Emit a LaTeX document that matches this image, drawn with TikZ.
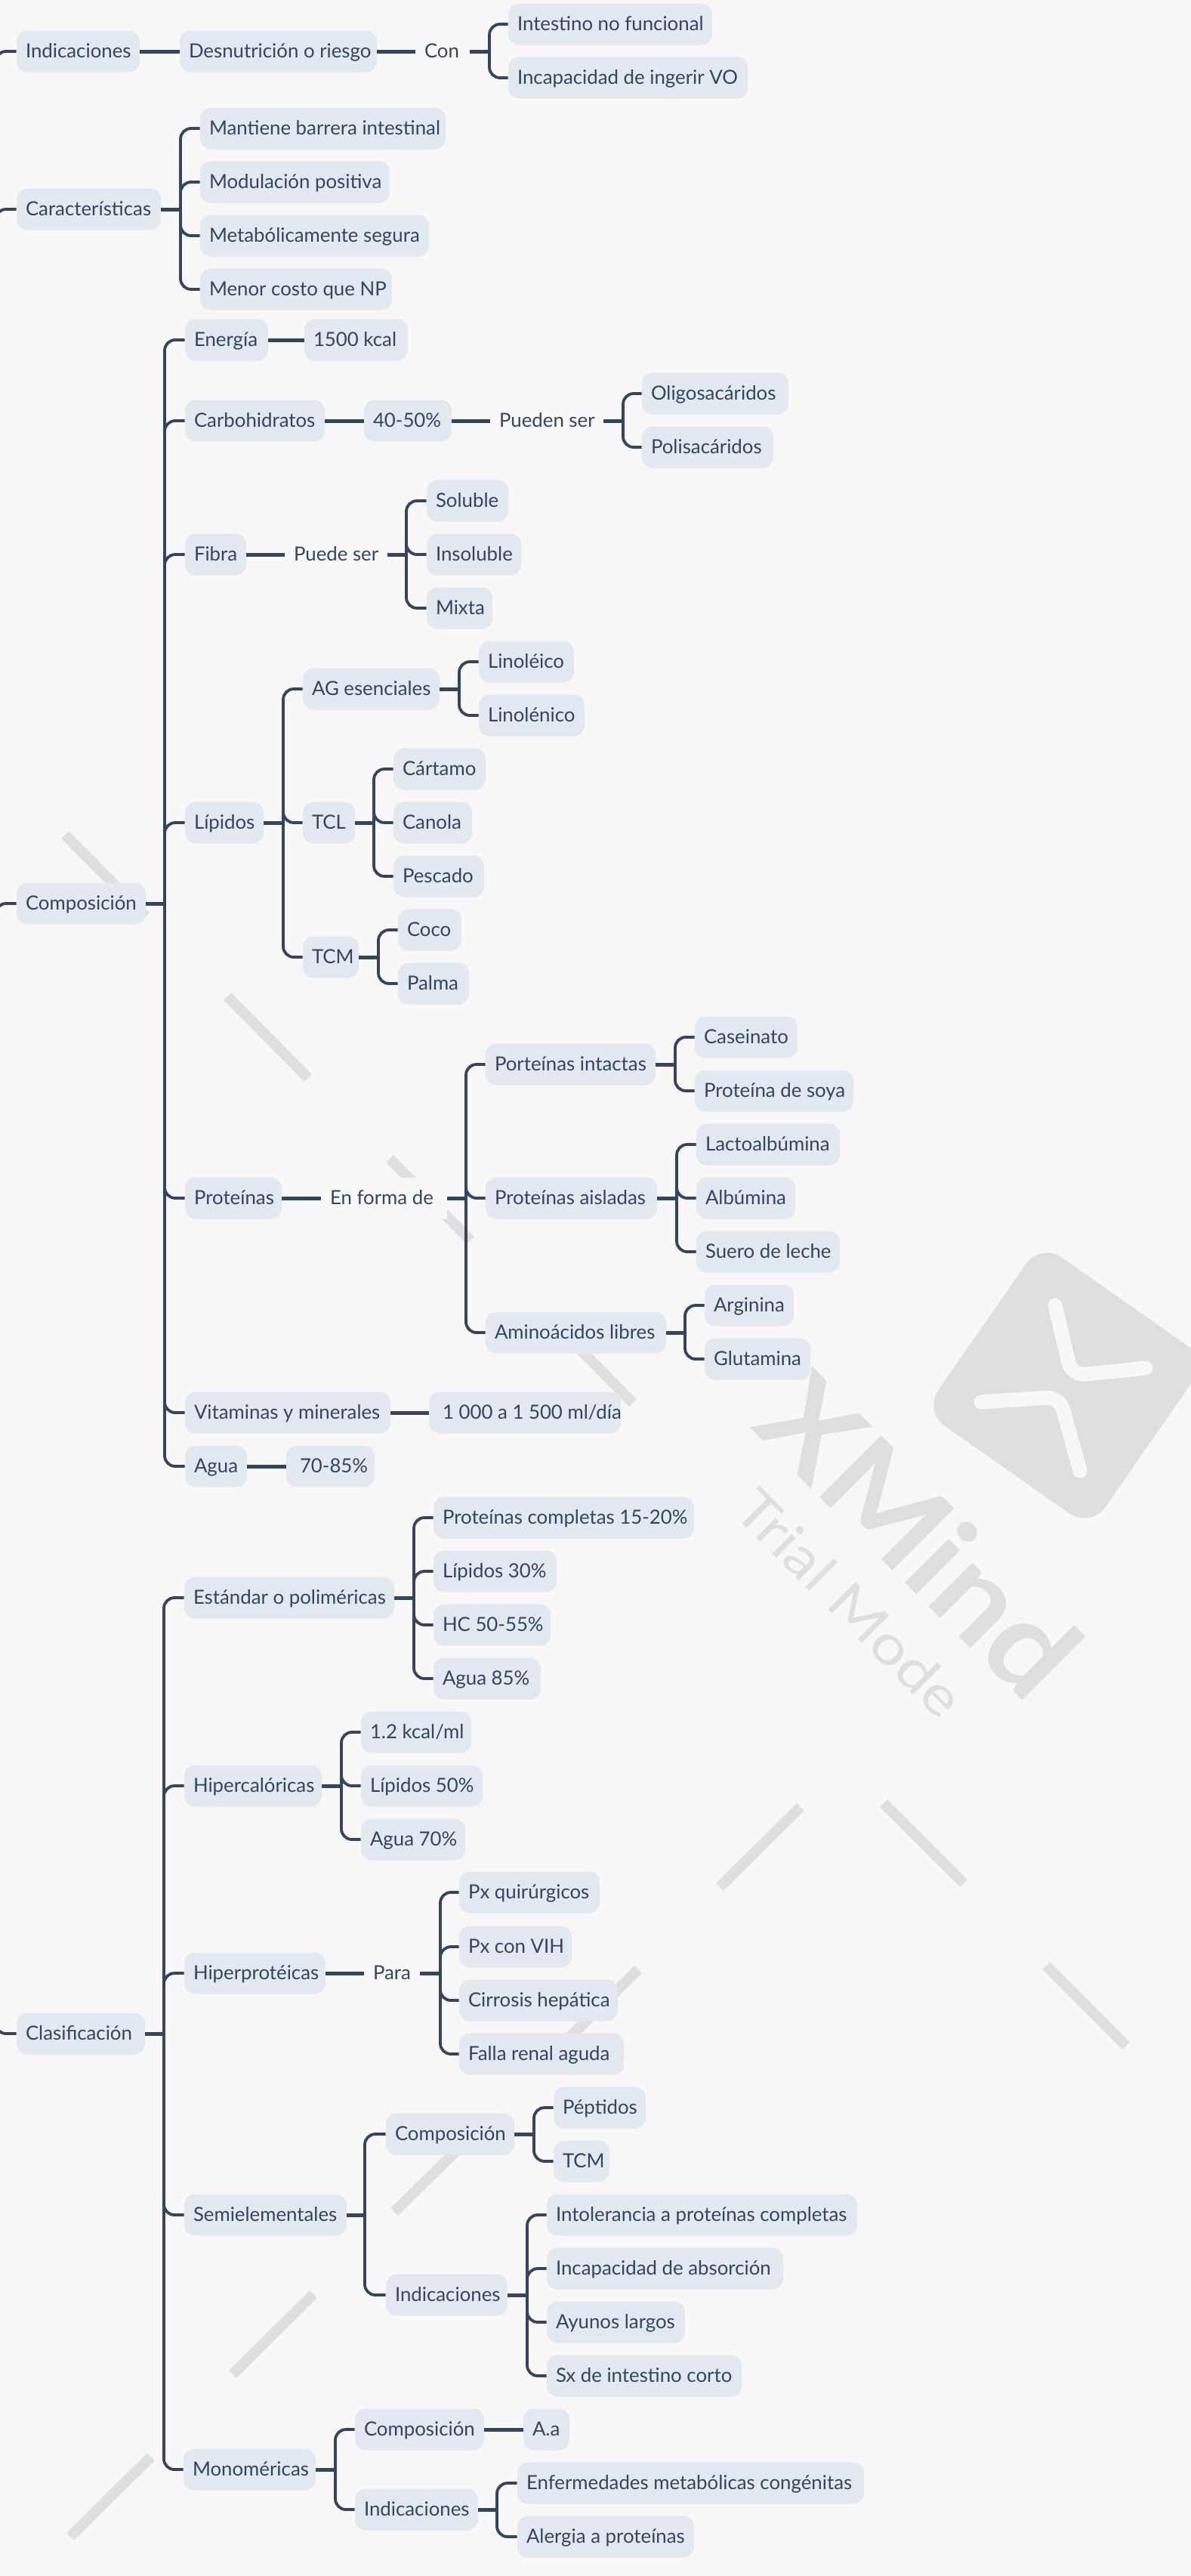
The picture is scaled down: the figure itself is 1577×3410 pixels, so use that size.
\documentclass[tikz,border=0pt]{standalone}
\usepackage{fontspec}
\usepackage{graphicx}
\setmainfont{Lato}
\newfontfamily\wmbold{Lato Bold}
\definecolor{bgc}{HTML}{F8F8F8}
\definecolor{nodec}{HTML}{E3E9F1}
\definecolor{linec}{HTML}{34455F}
\definecolor{wmc}{HTML}{DFDFDF}
\tikzset{
  box/.style={fill=nodec,rounded corners=7pt,minimum height=27.5pt,inner sep=0pt,text=linec,font=\fontsize{12.9}{15}\selectfont,text height=10.5pt,text depth=1.9pt},
  plain/.style={fill=bgc,inner sep=0pt,minimum height=27.5pt,text=linec,font=\fontsize{12.9}{15}\selectfont,text height=10.5pt,text depth=1.9pt},
  link/.style={draw=linec,line width=1.9pt,rounded corners=7pt},
  stub/.style={draw=linec,line width=2.5pt},
  stripe/.style={draw=wmc,line width=7pt},
}
\newcommand\nd[5]{\pgfmathsetmacro\myw{(#3-#2)*0.5}\node[box,minimum width=\myw pt] (#1) at ({(#2+#3)/2},#4) {\makebox[\myw pt][l]{\hspace{6pt}#5}};}
\newcommand\lbb[5]{\pgfmathsetmacro\myw{(#3-#2)*0.5}\node[plain,minimum width=\myw pt] (#1) at ({(#2+#3)/2},#4) {\makebox[\myw pt][l]{\hspace{6pt}#5}};}
\newcommand\trk[3]{\draw[stub] (#1.east) -- (#2,0 |- #1.east);\foreach \cc in {#3}{\draw[link] (#2,0 |- #1.east) -- (#2,0 |- \cc.west) -- (\cc.west);}}
\newcommand\cnn[2]{\draw[stub] (#1.east) -- (#2.west);}
\begin{document}
\begin{tikzpicture}[x=0.5pt,y=-0.5pt]
\useasboundingbox[fill=bgc] (0,0) rectangle (1577,3410);
% watermark
\draw[stripe] (86,1105) -- (193,1213);
\draw[stripe] (301,1319) -- (408,1427);
\draw[stripe] (516,1534) -- (623,1642);
\draw[stripe] (731,1749) -- (838,1857);
\draw[stripe] (953,2498) -- (1060,2392);
\draw[stripe] (1170,2387) -- (1276,2493);
\draw[stripe] (1385,2602) -- (1491,2708);
\draw[stripe] (738,2713) -- (845,2607);
\draw[stripe] (522,2928) -- (630,2822);
\draw[stripe] (308,3143) -- (415,3037);
\draw[stripe] (93,3358) -- (200,3252);
\fill[wmc,rounded corners=17pt] (1378,1645) -- (1599,1800) -- (1444,2023) -- (1223,1868) -- cycle;
\draw[bgc,line width=9.5pt,line cap=round,rounded corners=9pt] (1397,1728) -- (1419,1821) -- (1517,1811);
\draw[bgc,line width=9.5pt,line cap=round,rounded corners=9pt] (1299,1856) -- (1403,1849) -- (1430,1947);
\node[rotate=-45,anchor=base west,inner sep=0pt,text=wmc,font=\wmbold\fontsize{80}{80}\selectfont] (wm1) at (992,1889) {\scalebox{1.09}[1]{XMind}};
\node[rotate=-45,anchor=base west,inner sep=0pt,text=wmc,font=\fontsize{36}{36}\selectfont] (wm2) at (968,2002) {\scalebox{1.17}[1]{Trial Mode}};
% nodes
\coordinate (r) at (-6,1400);
\nd{ind}{22}{185}{68}{Indicaciones}
\nd{des}{238}{499}{68}{Desnutrición o riesgo}
\lbb{con}{550}{622}{68}{Con}
\nd{int}{673}{943}{32}{Intestino no funcional}
\nd{inc}{673}{990}{103}{Incapacidad de ingerir VO}
\nd{car}{22}{213}{277}{Características}
\nd{man}{265}{590}{170}{Mantiene barrera intestinal}
\nd{mod}{265}{516}{241}{Modulación positiva}
\nd{met}{265}{568}{312}{Metabólicamente segura}
\nd{men}{265}{519}{383}{Menor costo que NP}
\nd{com}{22}{193}{1196}{Composición}
\nd{ene}{245}{355}{450}{Energía}
\nd{kca}{403}{540}{450}{1500 kcal}
\nd{cho}{245}{430}{557}{Carbohidratos}
\nd{cpc}{482}{598}{557}{40-50\%}
\lbb{pue}{649}{799}{557}{Pueden ser}
\nd{oli}{850}{1044}{521}{Oligosacáridos}
\nd{pol}{850}{1024}{592}{Polisacáridos}
\nd{fib}{245}{326}{734}{Fibra}
\lbb{pud}{377}{513}{734}{Puede ser}
\nd{sol}{565}{673}{663}{Soluble}
\nd{ins}{565}{690}{734}{Insoluble}
\nd{mix}{565}{652}{805}{Mixta}
\nd{lip}{245}{349}{1089}{Lípidos}
\nd{age}{401}{582}{912}{AG esenciales}
\nd{lie}{634}{760}{876}{Linoléico}
\nd{lin}{634}{774}{947}{Linolénico}
\nd{tcl}{401}{470}{1089}{TCL}
\nd{cat}{521}{643}{1018}{Cártamo}
\nd{cnl}{521}{625}{1089}{Canola}
\nd{pes}{521}{641}{1160}{Pescado}
\nd{tcm}{401}{475}{1267}{TCM}
\nd{coc}{527}{611}{1231}{Coco}
\nd{pal}{527}{621}{1302}{Palma}
\nd{pro}{245}{373}{1586}{Proteínas}
\lbb{enf}{425}{592}{1586}{En forma de}
\nd{pin}{643}{868}{1409}{Porteínas intactas}
\nd{pai}{643}{870}{1586}{Proteínas aisladas}
\nd{ami}{643}{882}{1764}{Aminoácidos libres}
\nd{cas}{920}{1056}{1373}{Caseinato}
\nd{soy}{920}{1130}{1444}{Proteína de soya}
\nd{lac}{922}{1112}{1515}{Lactoalbúmina}
\nd{alb}{922}{1053}{1586}{Albúmina}
\nd{sue}{922}{1112}{1657}{Suero de leche}
\nd{arg}{933}{1051}{1728}{Arginina}
\nd{glu}{933}{1073}{1799}{Glutamina}
\nd{vit}{245}{517}{1870}{Vitaminas y minerales}
\nd{mil}{568}{822}{1870}{\hspace{3pt}1 000 a 1 500 ml/día}
\nd{agu}{245}{327}{1941}{Agua}
\nd{set}{379}{496}{1941}{\hspace{3pt}70-85\%}
\nd{cla}{22}{192}{2692}{Clasificación}
\nd{est}{244}{522}{2115}{Estándar o poliméricas}
\nd{pco}{574}{919}{2009}{Proteínas completas 15-20\%}
\nd{l30}{574}{737}{2080}{Lípidos 30\%}
\nd{hcc}{574}{729}{2151}{HC 50-55\%}
\nd{a85}{574}{716}{2222}{Agua 85\%}
\nd{hic}{244}{426}{2364}{Hipercalóricas}
\nd{k12}{478}{624}{2293}{1.2 kcal/ml}
\nd{l50}{478}{639}{2364}{Lípidos 50\%}
\nd{a70}{478}{616}{2435}{Agua 70\%}
\nd{hip}{244}{431}{2612}{Hiperprotéicas}
\lbb{par}{482}{556}{2612}{Para}
\nd{pxq}{608}{794}{2505}{Px quirúrgicos}
\nd{pxv}{608}{757}{2577}{Px con VIH}
\nd{cir}{608}{818}{2648}{Cirrosis hepática}
\nd{fal}{608}{826}{2719}{Falla renal aguda}
\nd{sem}{244}{459}{2932}{Semielementales}
\nd{sco}{511}{681}{2825}{Composición}
\nd{pep}{733}{855}{2790}{Péptidos}
\nd{stc}{733}{807}{2861}{TCM}
\nd{sin}{511}{672}{3038}{Indicaciones}
\nd{ito}{724}{1135}{2932}{Intolerancia a proteínas completas}
\nd{iab}{724}{1037}{3003}{Incapacidad de absorción}
\nd{ayu}{724}{907}{3074}{Ayunos largos}
\nd{sxi}{724}{982}{3145}{Sx de intestino corto}
\nd{mon}{243}{418}{3269}{Monoméricas}
\nd{mco}{470}{641}{3216}{Composición}
\nd{aaa}{693}{754}{3216}{A.a}
\nd{min}{470}{633}{3322}{Indicaciones}
\nd{enm}{685}{1144}{3287}{Enfermedades metabólicas congénitas}
\nd{ale}{685}{919}{3358}{Alergia a proteínas}
% connectors
\foreach \cc in {ind,car,com,cla}{\draw[link] (r) -- (r |- \cc.west) -- (\cc.west);}
\cnn{ind}{des}
\cnn{des}{con}
\trk{con}{648}{int,inc}
\trk{car}{239}{man,mod,met,men}
\trk{com}{218}{ene,cho,fib,lip,pro,vit,agu}
\cnn{ene}{kca}
\cnn{cho}{cpc}
\cnn{cpc}{pue}
\trk{pue}{825}{oli,pol}
\cnn{fib}{pud}
\trk{pud}{538}{sol,ins,mix}
\trk{lip}{375}{age,tcl,tcm}
\trk{age}{608}{lie,lin}
\trk{tcl}{495}{cat,cnl,pes}
\trk{tcm}{501}{coc,pal}
\cnn{pro}{enf}
\trk{enf}{617}{pin,pai,ami}
\trk{pin}{894}{cas,soy}
\trk{pai}{896}{lac,alb,sue}
\trk{ami}{907}{arg,glu}
\cnn{vit}{mil}
\cnn{agu}{set}
\trk{cla}{217}{est,hic,hip,sem,mon}
\trk{est}{548}{pco,l30,hcc,a85}
\trk{hic}{452}{k12,l50,a70}
\cnn{hip}{par}
\trk{par}{583}{pxq,pxv,cir,fal}
\trk{sem}{483}{sco,sin}
\trk{sco}{707}{pep,stc}
\trk{sin}{698}{ito,iab,ayu,sxi}
\trk{mon}{444}{mco,min}
\cnn{mco}{aaa}
\trk{min}{658}{enm,ale}
\end{tikzpicture}
\end{document}
